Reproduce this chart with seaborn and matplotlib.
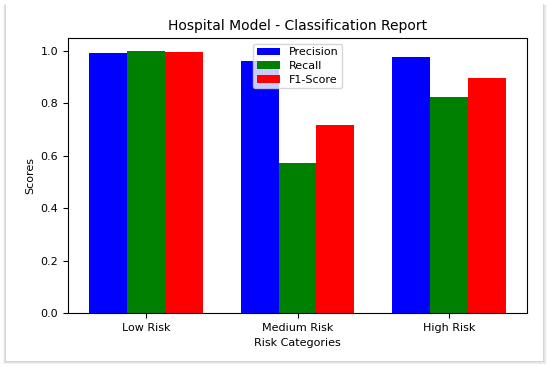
import matplotlib
matplotlib.use("Agg")
import matplotlib.pyplot as plt
from matplotlib.patches import Rectangle
import pandas as pd
import seaborn as sns

# Classification report values per risk category
categories = ["Low Risk", "Medium Risk", "High Risk"]
precision = [0.992, 0.961, 0.977]
recall = [1.000, 0.571, 0.823]
f1_score = [0.996, 0.716, 0.896]
metric_names = ["Precision", "Recall", "F1-Score"]
metric_colors = ["blue", "green", "red"]

report = pd.DataFrame(
    {"Risk Categories": categories, "Precision": precision, "Recall": recall, "F1-Score": f1_score}
)
long = report.melt(id_vars="Risk Categories", var_name="Metric", value_name="Scores")

fig = plt.figure(figsize=(5.5, 3.67), dpi=100)
fig.patch.set_facecolor("white")

# Screenshot card with soft drop shadow
x0, y0, x1, y1 = 6 / 550, 6 / 367, 543 / 550, 363 / 367
for i, a in enumerate([0.05, 0.07, 0.10, 0.14]):
    pad = (4 - i) / 550
    fig.patches.append(
        Rectangle((x0 - pad * 0.8, y0 - pad * 1.3), (x1 - x0) + pad * 1.8, (y1 - y0) + pad * 1.0,
                  transform=fig.transFigure, facecolor="#808080", alpha=a,
                  edgecolor="none", zorder=-3)
    )
fig.patches.append(
    Rectangle((x0, y0), x1 - x0, y1 - y0, transform=fig.transFigure,
              facecolor="white", edgecolor="none", zorder=-2)
)

ax = fig.add_axes([68 / 550, 54 / 367, 459 / 550, 275 / 367])
sns.barplot(
    data=long, x="Risk Categories", y="Scores", hue="Metric",
    hue_order=metric_names, palette=metric_colors, saturation=1,
    width=0.75, errorbar=None, ax=ax,
)
ax.set_xlim(-0.5125, 2.5125)
ax.set_ylim(0, 1.05)
ax.set_title("Hospital Model - Classification Report", fontsize=10)
ax.set_xlabel("Risk Categories", fontsize=8)
ax.set_ylabel("Scores", fontsize=8)
ax.tick_params(labelsize=8)
ax.legend(loc="upper center", fontsize=8, labelspacing=0.32, borderpad=0.35,
          handlelength=2.1)

fig.savefig("out.png", dpi=100)
